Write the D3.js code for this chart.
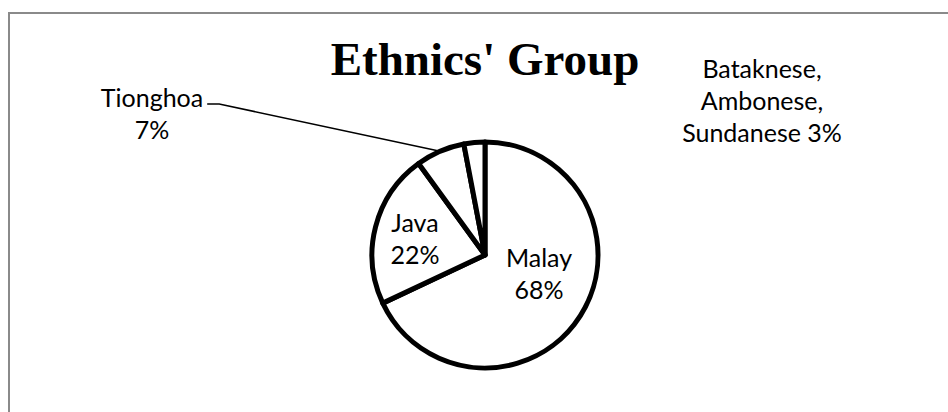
<!DOCTYPE html>
<html>
<head>
<meta charset="utf-8">
<script src="https://cdn.jsdelivr.net/npm/d3@7"></script>
<style>
  html, body { margin: 0; padding: 0; background: #ffffff; }
  svg { display: block; }
</style>
</head>
<body>
<svg id="chart" width="948" height="412"></svg>
<script>
// ---- data ----
const categories = ["Malay", "Java", "Tionghoa", "Bataknese, Ambonese, Sundanese"];
const values = [68, 22, 7, 3];
const labelLines = [
  ["Malay", "68%"],
  ["Java", "22%"],
  ["Tionghoa", "7%"],
  ["Bataknese,", "Ambonese,", "Sundanese 3%"]
];
const title = "Ethnics' Group";

// ---- layout (text placement only) ----
const W = 948, H = 412;
const cx = 485, cy = 255, R = 113;
const labelPos = [
  { x: 539, y: 267 },
  { x: 415, y: 232 },
  { x: 152, y: 107 },
  { x: 762, y: 78 }
];
const lineH = 32;

const svg = d3.select("#chart");

// chart-area frame (only top and left edges visible)
svg.append("rect")
  .attr("x", 9).attr("y", 13)
  .attr("width", 1000).attr("height", 500)
  .attr("fill", "#ffffff")
  .attr("stroke", "#8a8a8a")
  .attr("stroke-width", 2);

// title
svg.append("text")
  .attr("x", cx).attr("y", 75)
  .attr("text-anchor", "middle")
  .attr("font-family", "'Liberation Serif', 'Times New Roman', serif")
  .attr("font-weight", "bold")
  .attr("font-size", 47)
  .attr("fill", "#000")
  .text(title);

const data = categories.map((c, i) => ({ cat: c, value: values[i], lines: labelLines[i], pos: labelPos[i] }));

const pie = d3.pie().sort(null).value(d => d.value).startAngle(0).endAngle(2 * Math.PI);
const arcs = pie(data);
const arc = d3.arc().innerRadius(0).outerRadius(R);
const edgeArc = d3.arc().innerRadius(R).outerRadius(R);

const g = svg.append("g").attr("transform", `translate(${cx},${cy})`);
g.selectAll("path.slice")
  .data(arcs)
  .join("path")
  .attr("class", "slice")
  .attr("d", arc)
  .attr("fill", "#ffffff")
  .attr("stroke", "#000")
  .attr("stroke-width", 5)
  .attr("stroke-linejoin", "round");

// labels
const lbl = svg.append("g")
  .attr("font-family", "Lato, 'Open Sans', sans-serif")
  .attr("font-size", 25)
  .attr("fill", "#000")
  .attr("text-anchor", "middle");
const textNodes = [];
data.forEach(d => {
  const t = lbl.append("text").attr("x", d.pos.x).attr("y", d.pos.y);
  d.lines.forEach((line, i) => {
    t.append("tspan").attr("x", d.pos.x).attr("y", d.pos.y + i * lineH).text(line);
  });
  textNodes.push(t);
});

// leader line for Tionghoa: from right end of first label line to slice edge
const tArc = arcs[2];
const ep = edgeArc.centroid(tArc);
const firstLine = textNodes[2].select("tspan").node();
const bb = firstLine.getBBox();
const sx = bb.x + bb.width + 4, sy = labelPos[2].y - 3;
svg.append("polyline")
  .attr("points", [[sx, sy], [sx + 12, sy], [cx + ep[0], cy + ep[1]]].map(p => p.join(",")).join(" "))
  .attr("fill", "none")
  .attr("stroke", "#000")
  .attr("stroke-width", 1.5);
</script>
</body>
</html>
